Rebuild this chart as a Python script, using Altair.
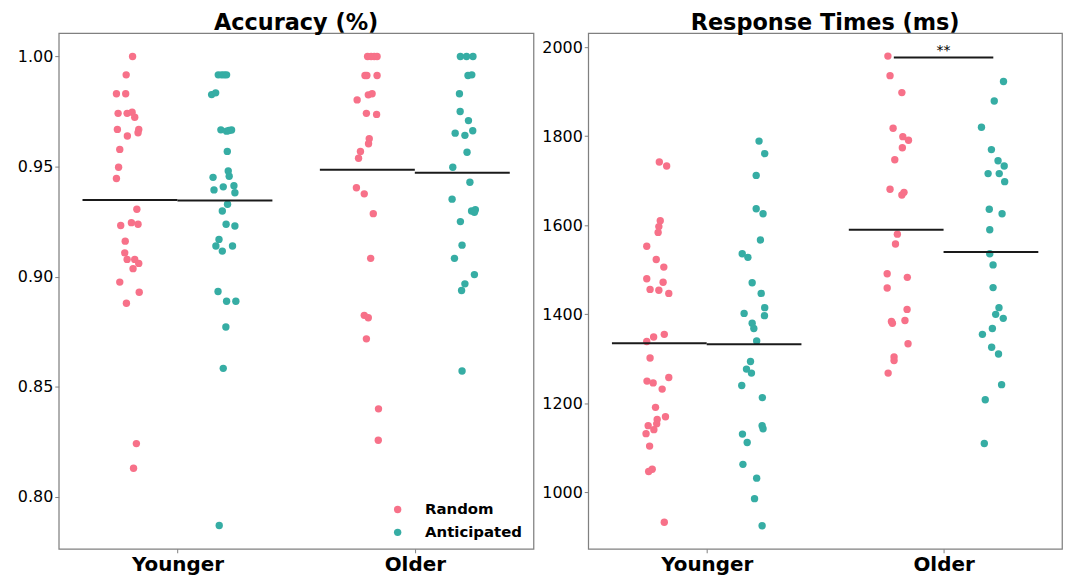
import altair as alt
import pandas as pd

groups = ["Younger", "Older"]
conds = ["Random", "Anticipated"]
colors = ["#f77189", "#36ada4"]

# ---------- Accuracy (values, jitter) ----------
acc_yr_val = [1.000, .9917, .9831, .9831, .9742, .9742, .9747, .9724, .9669, .9639,
              .9669, .9654, .9578, .9497, .9446, .9306, .9232, .9245, .9238, .9161,
              .9108, .9078, .9078, .9060, .9036, .8975, .8929, .8879, .8241, .8129]
acc_yr_jit = [.011, -.016, -.057, -.018, -.050, -.012, .009, .020, -.053, -.011,
              .037, .034, -.043, -.048, -.057, .029, -.039, .006, .034, -.020,
              -.022, -.012, .020, .037, .013, -.043, .039, -.015, .027, .015]
acc_ya_val = [.9917, .9917, .9917, .9917, .9827, .9835, .9667, .9661, .9666, .9664,
              .9569, .9480, .9451, .9456, .9408, .9413, .9394, .9381, .9329, .9298,
              .9238, .9230, .9169, .9139, .9139, .9116, .8932, .8888, .8888, .8771,
              .8583, .7869]
acc_ya_jit = [-.028, -.014, -.003, .007, -.056, -.039, -.017, .007, .028, .017,
              .010, .014, -.050, .018, -.007, .038, -.046, .042, .011, -.011,
              .005, .042, -.025, -.038, .032, -.011, -.029, .007, .046, .004,
              -.007, -.024]
acc_or_val = [1.0, 1.0, 1.0, 1.0, .9914, .9914, .9914, .9803, .9826, .9831,
              .9742, .9737, .9627, .9604, .9569, .9538, .9404, .9376, .9286, .9083,
              .8824, .8813, .8717, .8399, .8256]
acc_or_jit = [.001, .016, .029, .041, -.010, -.002, .041, -.043, .004, .020,
              -.004, .039, .008, .005, -.029, -.037, -.046, -.013, .025, .014,
              -.013, .004, -.004, .047, .046]
acc_oa_val = [1.0, 1.0, 1.0, .9914, .9917, .9831, .9750, .9709, .9652, .9642,
              .9663, .9565, .9497, .9429, .9352, .9298, .9304, .9292, .9250, .9143,
              .9083, .9009, .8967, .8937, .8571]
acc_oa_jit = [-.008, .018, .045, .024, .040, -.012, -.009, .026, -.030, .011,
              .044, .020, -.040, .032, -.043, .039, .055, .051, -.008, -.001,
              -.033, .051, .011, -.003, -.001]
acc_means = [0.9348, 0.9346, 0.9486, 0.9472]   # YR, YA, OR, OA

# ---------- Response times ----------
rt_yr_val = [1742, 1733, 1610, 1597, 1584, 1553, 1523, 1506, 1480, 1472,
             1456, 1454, 1447, 1355, 1349, 1339, 1302, 1250, 1246, 1258,
             1232, 1191, 1164, 1170, 1154, 1150, 1141, 1132, 1104, 1052,
             1047, 933]
rt_yr_jit = [.000, .031, .004, -.002, -.005, -.053, -.013, .019, -.053, .016,
             -.039, -.002, .040, .021, -.024, -.053, -.039, -.052, -.026, .040,
             .012, -.016, -.009, .026, -.011, -.047, -.023, -.056, -.041, -.030,
             -.045, .021]
rt_ya_val = [1789, 1761, 1712, 1637, 1626, 1567, 1536, 1528, 1471, 1447,
             1415, 1397, 1402, 1380, 1368, 1340, 1294, 1277, 1268, 1240,
             1213, 1150, 1143, 1131, 1112, 1063, 1032, 986, 925]
rt_ya_jit = [.021, .045, .009, .009, .038, .027, -.050, -.026, -.008, .030,
             .045, .044, -.042, -.008, -.001, .011, -.015, -.032, -.011, -.052,
             .035, .034, .038, -.049, -.029, -.047, .011, .002, .034]
rt_or_val = [1980, 1936, 1898, 1818, 1799, 1791, 1774, 1747, 1681, 1668,
             1674, 1580, 1558, 1491, 1483, 1459, 1411, 1384, 1380, 1386,
             1334, 1304, 1296, 1268]
rt_or_jit = [-.035, -.026, .024, -.013, .028, .052, .026, -.006, -.026, .024,
             .033, .005, -.003, -.038, .047, -.038, .046, -.020, -.016, .037,
             .050, -.009, -.009, -.034]
rt_oa_val = [1923, 1879, 1820, 1770, 1745, 1733, 1716, 1716, 1698, 1636,
             1626, 1590, 1536, 1511, 1460, 1415, 1400, 1391, 1368, 1355,
             1326, 1311, 1242, 1208, 1110]
rt_oa_jit = [.053, .014, -.040, .002, .030, .056, -.012, .035, .058, -.007,
             .047, -.005, -.005, .009, .009, .034, .020, .052, .006, -.036,
             .003, .032, .045, -.024, -.028]
rt_means = [1335, 1333, 1590, 1540]

# significance annotation (Older, Random vs Anticipated)
sig_y = [1977]
sig_text = ["**"]

DODGE = 0.2
HALF = 0.4


def points_df(sets):
    rows = []
    for (vals, jits, gi, ci) in sets:
        off = -DODGE if ci == 0 else DODGE
        for v, j in zip(vals, jits):
            rows.append({"xpos": gi + off + j, "value": v, "cond": conds[ci]})
    return pd.DataFrame(rows)


def means_df(means):
    rows = []
    k = 0
    for gi in range(2):
        for ci in range(2):
            x1 = gi - HALF if ci == 0 else gi
            x2 = gi if ci == 0 else gi + HALF
            rows.append({"x1": x1, "x2": x2, "mean": means[k]})
            k += 1
    return pd.DataFrame(rows)


FONT = "DejaVu Sans"
x_scale = alt.Scale(domain=[-0.5, 1.5], nice=False, zero=False)
x_axis = alt.Axis(values=[0, 1], labelExpr="datum.value == 0 ? 'Younger' : 'Older'",
                  title=None, grid=False, domain=False, tickSize=4, tickColor="#808080",
                  labelFont=FONT, labelFontSize=20, labelFontWeight="bold",
                  labelColor="black", labelPadding=2)


def y_axis(vals, fmt):
    return alt.Axis(values=vals, format=fmt, title=None, grid=False, domain=False,
                    tickSize=4, tickColor="#808080", labelFont=FONT, labelFontSize=16,
                    labelColor="black", labelPadding=2)


def panel(pdf, mdf, title, ydom, yvals, fmt, legend, extra=None):
    ys = alt.Scale(domain=ydom, nice=False, zero=False)
    ya = y_axis(yvals, fmt)
    color = alt.Color("cond:N", scale=alt.Scale(domain=conds, range=colors),
                      sort=conds, legend=legend)
    pts = alt.Chart(pdf).mark_circle(size=55, opacity=1).encode(
        x=alt.X("xpos:Q", scale=x_scale, axis=x_axis),
        y=alt.Y("value:Q", scale=ys, axis=ya),
        color=color,
    )
    mn = alt.Chart(mdf).mark_rule(color="#1a1a1a", strokeWidth=2).encode(
        x=alt.X("x1:Q", scale=x_scale, axis=x_axis),
        x2="x2:Q",
        y=alt.Y("mean:Q", scale=ys, axis=ya),
    )
    layers = [pts, mn]
    if extra is not None:
        layers += extra(ys, ya)
    return alt.layer(*layers).properties(
        width=477, height=518,
        title=alt.TitleParams(title, font=FONT, fontSize=22.5, fontWeight="bold",
                              color="black", offset=-1, anchor="middle"),
    )


def sig_layers(ys, ya):
    sdf = pd.DataFrame({"x1": [1 - 0.21], "x2": [1 + 0.21], "y": sig_y})
    tdf = pd.DataFrame({"x": [1.0], "y": sig_y, "t": sig_text})
    bar = alt.Chart(sdf).mark_rule(color="#1a1a1a", strokeWidth=2).encode(
        x=alt.X("x1:Q", scale=x_scale, axis=x_axis), x2="x2:Q",
        y=alt.Y("y:Q", scale=ys, axis=ya))
    txt = alt.Chart(tdf).mark_text(font=FONT, fontSize=14, baseline="alphabetic",
                                   dy=-2, color="black").encode(
        x=alt.X("x:Q", scale=x_scale, axis=x_axis),
        y=alt.Y("y:Q", scale=ys, axis=ya), text="t:N")
    return [bar, txt]


acc_pts = points_df([(acc_yr_val, acc_yr_jit, 0, 0), (acc_ya_val, acc_ya_jit, 0, 1),
                     (acc_or_val, acc_or_jit, 1, 0), (acc_oa_val, acc_oa_jit, 1, 1)])
rt_pts = points_df([(rt_yr_val, rt_yr_jit, 0, 0), (rt_ya_val, rt_ya_jit, 0, 1),
                    (rt_or_val, rt_or_jit, 1, 0), (rt_oa_val, rt_oa_jit, 1, 1)])

legend = alt.Legend(title=None, orient="none", legendX=333, legendY=471,
                    labelFont=FONT, labelFontSize=15, labelFontWeight="bold",
                    labelColor="black", symbolType="circle", symbolSize=55,
                    symbolOpacity=1, labelOffset=20, rowPadding=7, padding=0)

left = panel(acc_pts, means_df(acc_means), "Accuracy (%)", [0.7763, 1.0106],
             [0.80, 0.85, 0.90, 0.95, 1.00], ".2f", legend)
right = panel(rt_pts, means_df(rt_means), "Response Times (ms)", [873.4, 2031.3],
              [1000, 1200, 1400, 1600, 1800, 2000], "d", None, extra=sig_layers)
right = right.properties(width=476)

chart = alt.hconcat(left, right, spacing=55, bounds="flush").resolve_scale(
    color="independent"
).properties(
    padding={"left": 8, "top": 1, "right": 0, "bottom": 0},
    background="white",
).configure_view(stroke="#808080", strokeWidth=1.25)

chart.save("out.html", embed_options={"renderer": "svg", "actions": False})
